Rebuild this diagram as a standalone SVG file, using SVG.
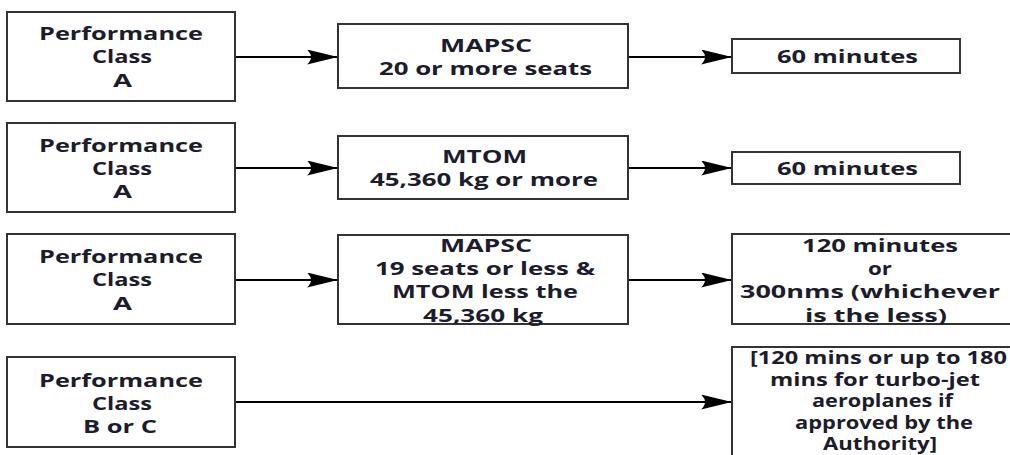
<svg xmlns="http://www.w3.org/2000/svg" width="1010" height="455" viewBox="0 0 1010 455">
<defs>
<style>
.box{fill:#fff;stroke:#333;stroke-width:2}
.t{font-family:"Open Sans","DejaVu Sans",sans-serif;font-weight:bold;font-size:18px;fill:#1c1c2c}
.s{font-size:17px}
.c{stroke:#000;stroke-width:2;fill:none;marker-end:url(#ah)}
</style>
<marker id="ah" markerUnits="userSpaceOnUse" markerWidth="32" markerHeight="16" refX="31" refY="7.5" orient="auto">
<path d="M0,0 L31,7.5 L0,15 Q8,7.5 0,0 Z" fill="#000"/>
</marker>
</defs>
<rect width="1010" height="455" fill="#fff"/>
<g id="connectors">
<line class="c" x1="235" y1="57" x2="338" y2="57"/>
<line class="c" x1="628" y1="57" x2="732" y2="57"/>
<line class="c" x1="235" y1="168" x2="338" y2="168"/>
<line class="c" x1="628" y1="168" x2="732" y2="168"/>
<line class="c" x1="235" y1="280" x2="338" y2="280"/>
<line class="c" x1="628" y1="280" x2="732" y2="280"/>
<line class="c" x1="235" y1="402" x2="732" y2="402"/>
</g>
<g id="L1">
<rect class="box" x="7" y="12" width="228" height="89"/>
<text class="t" x="39" y="40" textLength="164" lengthAdjust="spacingAndGlyphs">Performance</text>
<text class="t" x="92" y="63" textLength="60" lengthAdjust="spacingAndGlyphs">Class</text>
<text class="t" x="113" y="87" textLength="19" lengthAdjust="spacingAndGlyphs">A</text>
</g>
<g id="M1">
<rect class="box" x="338" y="24" width="290" height="64"/>
<text class="t" x="440" y="52" textLength="92" lengthAdjust="spacingAndGlyphs">MAPSC</text>
<text class="t" x="379" y="75" textLength="213" lengthAdjust="spacingAndGlyphs">20 or more seats</text>
</g>
<g id="R1">
<rect class="box" x="732" y="39" width="228" height="34"/>
<text class="t" x="777" y="63" textLength="141" lengthAdjust="spacingAndGlyphs">60 minutes</text>
</g>
<g id="L2">
<rect class="box" x="7" y="123" width="228" height="89"/>
<text class="t" x="39" y="152" textLength="164" lengthAdjust="spacingAndGlyphs">Performance</text>
<text class="t" x="92" y="175" textLength="60" lengthAdjust="spacingAndGlyphs">Class</text>
<text class="t" x="113" y="198" textLength="19" lengthAdjust="spacingAndGlyphs">A</text>
</g>
<g id="M2">
<rect class="box" x="338" y="136" width="290" height="63"/>
<text class="t" x="442" y="163" textLength="85" lengthAdjust="spacingAndGlyphs">MTOM</text>
<text class="t" x="370" y="186" textLength="228" lengthAdjust="spacingAndGlyphs">45,360 kg or more</text>
</g>
<g id="R2">
<rect class="box" x="732" y="152" width="228" height="32"/>
<text class="t" x="777" y="175" textLength="141" lengthAdjust="spacingAndGlyphs">60 minutes</text>
</g>
<g id="L3">
<rect class="box" x="7" y="234" width="228" height="90"/>
<text class="t" x="39" y="263" textLength="164" lengthAdjust="spacingAndGlyphs">Performance</text>
<text class="t" x="92" y="286" textLength="60" lengthAdjust="spacingAndGlyphs">Class</text>
<text class="t" x="113" y="310" textLength="19" lengthAdjust="spacingAndGlyphs">A</text>
</g>
<g id="M3">
<rect class="box" x="338" y="235" width="290" height="89"/>
<text class="t" x="440" y="252" textLength="92" lengthAdjust="spacingAndGlyphs">MAPSC</text>
<text class="t" x="375" y="275" textLength="220" lengthAdjust="spacingAndGlyphs">19 seats or less &amp;</text>
<text class="t" x="392" y="298" textLength="186" lengthAdjust="spacingAndGlyphs">MTOM less the</text>
<text class="t" x="423" y="322" textLength="120" lengthAdjust="spacingAndGlyphs">45,360 kg</text>
</g>
<g id="R3">
<rect class="box" x="732" y="234" width="300" height="90"/>
<text class="t" x="802" y="252" textLength="156" lengthAdjust="spacingAndGlyphs">120 minutes</text>
<text class="t" x="868" y="275" textLength="24" lengthAdjust="spacingAndGlyphs">or</text>
<text class="t" x="740" y="298" textLength="260" lengthAdjust="spacingAndGlyphs">300nms (whichever</text>
<text class="t" x="805" y="322" textLength="142" lengthAdjust="spacingAndGlyphs">is the less)</text>
</g>
<g id="L4">
<rect class="box" x="7" y="357" width="228" height="90"/>
<text class="t" x="39" y="387" textLength="164" lengthAdjust="spacingAndGlyphs">Performance</text>
<text class="t" x="92" y="410" textLength="60" lengthAdjust="spacingAndGlyphs">Class</text>
<text class="t" x="83" y="433" textLength="74" lengthAdjust="spacingAndGlyphs">B or C</text>
</g>
<g id="R4">
<rect class="box" x="732" y="347" width="300" height="130"/>
<text class="t s" x="750" y="364" textLength="257" lengthAdjust="spacingAndGlyphs">[120 mins or up to 180</text>
<text class="t s" x="770" y="385.5" textLength="210" lengthAdjust="spacingAndGlyphs">mins for turbo-jet</text>
<text class="t s" x="812" y="407" textLength="141" lengthAdjust="spacingAndGlyphs">aeroplanes if</text>
<text class="t s" x="795" y="428.5" textLength="178" lengthAdjust="spacingAndGlyphs">approved by the</text>
<text class="t s" x="823" y="450" textLength="114" lengthAdjust="spacingAndGlyphs">Authority]</text>
</g>
</svg>
